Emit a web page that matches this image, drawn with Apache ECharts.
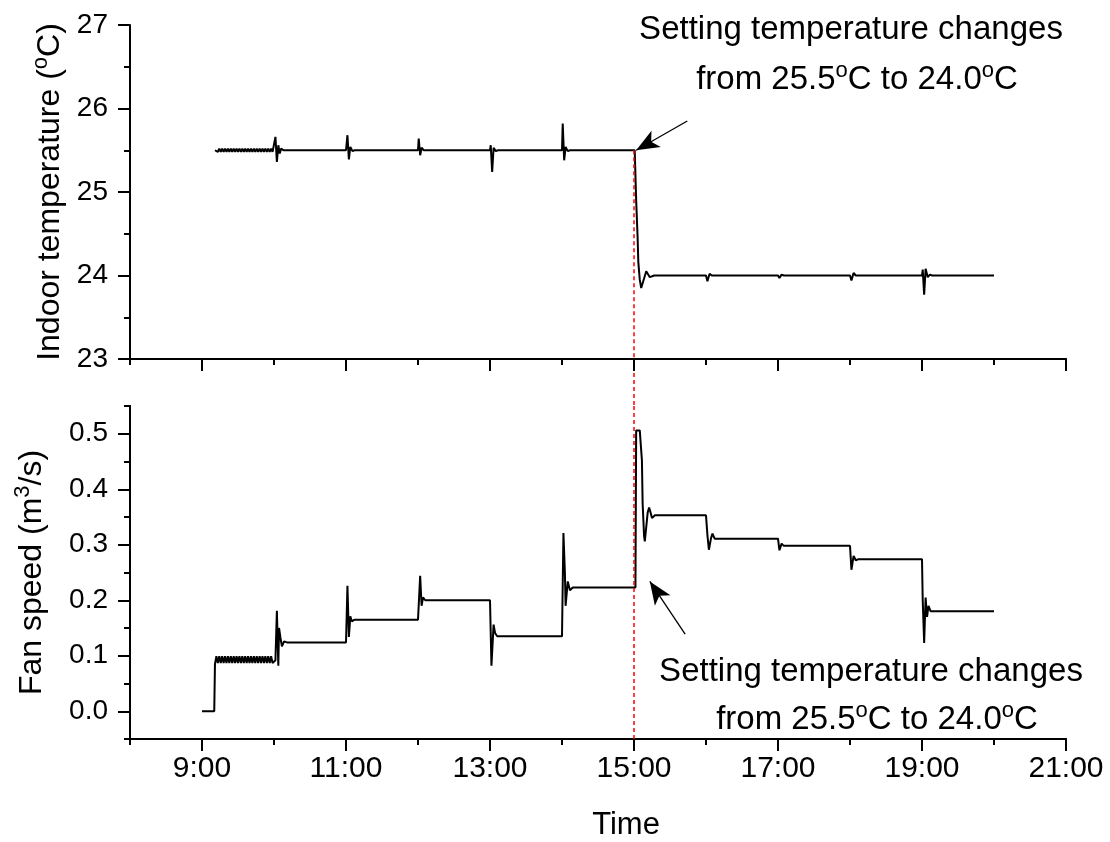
<!DOCTYPE html>
<html>
<head>
<meta charset="utf-8">
<script src="https://cdn.jsdelivr.net/npm/echarts@6/dist/echarts.min.js"></script>
<style>
  html, body { margin: 0; padding: 0; background: #fff; }
  #chart { width: 1110px; height: 842px; }
</style>
</head>
<body>
<div id="chart"></div>
<script>
// time in hours (decimal)
var hourLabels = ['8:00', '9:00', '10:00', '11:00', '12:00', '13:00', '14:00', '15:00', '16:00', '17:00', '18:00', '19:00', '20:00', '21:00']
var fanTickLabels = ['', '0.0', '', '0.1', '', '0.2', '', '0.3', '', '0.4', '', '0.5', '']
var changeTime = 15

// indoor temperature, [hour, degC]
var indoorTemp = [
  [9.18, 25.50], [9.20, 25.52], [9.22, 25.48], [9.24, 25.52], [9.26, 25.48], [9.28, 25.52], [9.30, 25.48],
  [9.32, 25.52], [9.34, 25.48], [9.36, 25.52], [9.38, 25.48], [9.40, 25.52], [9.42, 25.48], [9.44, 25.52],
  [9.46, 25.48], [9.48, 25.52], [9.50, 25.48], [9.52, 25.52], [9.54, 25.48], [9.56, 25.52], [9.58, 25.48],
  [9.60, 25.52], [9.62, 25.48], [9.64, 25.52], [9.66, 25.48], [9.68, 25.52], [9.70, 25.48], [9.72, 25.52],
  [9.74, 25.48], [9.76, 25.52], [9.78, 25.48], [9.80, 25.52], [9.82, 25.48], [9.84, 25.52], [9.86, 25.48],
  [9.88, 25.52], [9.90, 25.48], [9.92, 25.52], [9.94, 25.48], [9.96, 25.52], [9.98, 25.48], [10.00, 25.50],
  [10.02, 25.66], [10.04, 25.36], [10.06, 25.56], [10.08, 25.46], [10.10, 25.52], [10.13, 25.50],
  [11.00, 25.50], [11.02, 25.68], [11.04, 25.39], [11.06, 25.54], [11.09, 25.49], [11.12, 25.50],
  [12.00, 25.50], [12.01, 25.64], [12.03, 25.44], [12.05, 25.53], [12.08, 25.50],
  [13.00, 25.50], [13.01, 25.56], [13.03, 25.24], [13.05, 25.53], [13.08, 25.49], [13.11, 25.50],
  [14.00, 25.50], [14.01, 25.82], [14.03, 25.38], [14.05, 25.54], [14.08, 25.49], [14.11, 25.50],
  [15.01, 25.50], [15.03, 24.90], [15.05, 24.46], [15.06, 24.16], [15.08, 23.95], [15.10, 23.85],
  [15.17, 24.05], [15.22, 23.98], [15.28, 24.00],
  [16.00, 24.00], [16.02, 23.93], [16.05, 24.02], [16.08, 24.00],
  [17.00, 24.00], [17.02, 23.97], [17.05, 24.01], [17.08, 24.00],
  [18.00, 24.00], [18.02, 23.94], [18.05, 24.03], [18.08, 24.00],
  [19.00, 24.00], [19.01, 24.07], [19.03, 23.77], [19.05, 24.08], [19.08, 23.98], [19.11, 24.01], [19.14, 24.00],
  [20.00, 24.00]
]

// fan speed, [hour, m3/s]
var fanSpeed = [
  [9.00, 0], [9.17, 0], [9.18, 0.085],
  [9.20, 0.099], [9.22, 0.087], [9.24, 0.099], [9.26, 0.087], [9.28, 0.099], [9.30, 0.087], [9.32, 0.099],
  [9.34, 0.087], [9.36, 0.099], [9.38, 0.087], [9.40, 0.099], [9.42, 0.087], [9.44, 0.099], [9.46, 0.087],
  [9.48, 0.099], [9.50, 0.087], [9.52, 0.099], [9.54, 0.087], [9.56, 0.099], [9.58, 0.087], [9.60, 0.099],
  [9.62, 0.087], [9.64, 0.099], [9.66, 0.087], [9.68, 0.099], [9.70, 0.087], [9.72, 0.099], [9.74, 0.087],
  [9.76, 0.099], [9.78, 0.087], [9.80, 0.099], [9.82, 0.087], [9.84, 0.099], [9.86, 0.087], [9.88, 0.099],
  [9.90, 0.087], [9.92, 0.099], [9.94, 0.087], [9.96, 0.099], [9.98, 0.087], [10.02, 0.092],
  [10.04, 0.181], [10.06, 0.082], [10.07, 0.150], [10.09, 0.132], [10.11, 0.117], [10.14, 0.126], [10.18, 0.124],
  [11.00, 0.124], [11.02, 0.226], [11.04, 0.134], [11.06, 0.171], [11.08, 0.162], [11.12, 0.165],
  [12.00, 0.165], [12.03, 0.244], [12.05, 0.190], [12.07, 0.205], [12.10, 0.200],
  [13.00, 0.200], [13.02, 0.082], [13.05, 0.156], [13.07, 0.141], [13.10, 0.135],
  [14.00, 0.135], [14.02, 0.321], [14.04, 0.250], [14.05, 0.190], [14.08, 0.234], [14.11, 0.218], [14.15, 0.223],
  [15.02, 0.223], [15.03, 0.506], [15.08, 0.506], [15.11, 0.452], [15.12, 0.374], [15.14, 0.316], [15.15, 0.306],
  [15.17, 0.332], [15.19, 0.358], [15.21, 0.367], [15.23, 0.358], [15.25, 0.348], [15.29, 0.353],
  [16.00, 0.353], [16.02, 0.317], [16.04, 0.291], [16.07, 0.312], [16.09, 0.320], [16.12, 0.311],
  [17.00, 0.311], [17.02, 0.290], [17.05, 0.302], [17.08, 0.298],
  [18.00, 0.298], [18.02, 0.255], [18.05, 0.280], [18.08, 0.272], [18.12, 0.274],
  [19.00, 0.274], [19.01, 0.200], [19.03, 0.123], [19.05, 0.205], [19.07, 0.170], [19.09, 0.190], [19.12, 0.180],
  [20.00, 0.180]
]

var FONT = '"Liberation Sans", Arial, sans-serif'
// small raised glyph for the degree sign and the cube (bottom padding lifts it)
var sup = { fontSize: 22, fontFamily: FONT, color: '#000', padding: [0, 0, 18, 0] }
var line = { show: true, onZero: false, lineStyle: { color: '#000', width: 2 } }
var redDash = { color: '#ff0000', type: [4, 3], width: 1.5 }

function oddHour (i) { return i % 2 === 1 }
function hasLabel (i, v) { return v !== '' }

var chart = echarts.init(document.getElementById('chart'))
chart.setOption({
  animation: false,
  backgroundColor: '#fff',
  grid: [
    { left: 130, top: 25, width: 936, height: 334 },
    { left: 130, top: 406, width: 936, height: 336 }
  ],
  xAxis: [
    {
      type: 'value', gridIndex: 0, position: 'bottom', min: 8, max: 21, interval: 1,
      axisLine: line, axisTick: { length: 6, lineStyle: { color: '#000', width: 2 } },
      axisLabel: { show: false }, splitLine: { show: false }
    },
    {
      type: 'category', gridIndex: 0, position: 'bottom', data: hourLabels, boundaryGap: false,
      axisLine: line, axisTick: { interval: oddHour, length: 12, lineStyle: { color: '#000', width: 2 } },
      axisLabel: { show: false }, splitLine: { show: false }
    },
    {
      type: 'value', gridIndex: 1, position: 'bottom', min: 8, max: 21, interval: 1,
      axisLine: line, axisTick: { length: 6, lineStyle: { color: '#000', width: 2 } },
      axisLabel: { show: false }, splitLine: { show: false }
    },
    {
      type: 'category', gridIndex: 1, position: 'bottom', data: hourLabels, boundaryGap: false,
      axisLine: line, axisTick: { interval: oddHour, length: 12, lineStyle: { color: '#000', width: 2 } },
      axisLabel: { interval: oddHour, fontSize: 30, fontFamily: FONT, color: '#000', margin: 15 },
      splitLine: { show: false },
      name: 'Time', nameLocation: 'middle', nameGap: 71,
      nameTextStyle: { fontSize: 31, fontFamily: FONT, color: '#000', padding: [0, 0, 0, 56] }
    }
  ],
  yAxis: [
    {
      type: 'value', gridIndex: 0, position: 'left', min: 23, max: 27, interval: 1,
      axisLine: line, axisTick: { length: 12, lineStyle: { color: '#000', width: 2 } },
      minorTick: { show: true, splitNumber: 2, length: 6, lineStyle: { color: '#000', width: 2 } },
      axisLabel: { fontSize: 28, fontFamily: FONT, color: '#000', margin: 22 },
      splitLine: { show: false },
      name: 'Indoor temperature ({sup|o}C)', nameLocation: 'middle', nameGap: 60, nameRotate: 90,
      nameTextStyle: { fontSize: 32, fontFamily: FONT, color: '#000', rich: { sup: sup } }
    },
    {
      type: 'value', gridIndex: 1, position: 'left', min: -0.05, max: 0.55, interval: 0.05,
      axisLine: line, axisTick: { length: 6, lineStyle: { color: '#000', width: 2 } },
      axisLabel: { show: false }, splitLine: { show: false }
    },
    {
      type: 'category', gridIndex: 1, position: 'left', data: fanTickLabels, boundaryGap: false,
      axisLine: line, axisTick: { interval: hasLabel, length: 12, lineStyle: { color: '#000', width: 2 } },
      axisLabel: { interval: hasLabel, fontSize: 28, fontFamily: FONT, color: '#000', margin: 22 },
      splitLine: { show: false },
      name: 'Fan speed (m{sup|3}/s)', nameLocation: 'middle', nameGap: 78, nameRotate: 90,
      nameTextStyle: { fontSize: 32, fontFamily: FONT, color: '#000', rich: { sup: sup } }
    }
  ],
  series: [
    {
      name: 'Indoor temperature', type: 'line', xAxisIndex: 0, yAxisIndex: 0,
      data: indoorTemp, showSymbol: false, lineStyle: { color: '#000', width: 2 },
      markLine: {
        silent: true, symbol: ['none', 'none'], label: { show: false }, lineStyle: redDash,
        data: [
          [{ coord: [changeTime, 25.5] }, { coord: [changeTime, 23] }],
          [
            { coord: [15.74, 25.85], lineStyle: { color: '#000', type: 'solid', width: 1.3 } },
            { coord: [15.03, 25.5], symbol: 'arrow', symbolSize: [14, 23] }
          ]
        ]
      }
    },
    {
      name: 'Fan speed', type: 'line', xAxisIndex: 2, yAxisIndex: 1,
      data: fanSpeed, showSymbol: false, lineStyle: { color: '#000', width: 2 },
      markLine: {
        silent: true, symbol: ['none', 'none'], label: { show: false }, lineStyle: redDash,
        data: [
          [{ coord: [changeTime, -0.05] }, { coord: [changeTime, 0.55] }],
          [
            { coord: [15.71, 0.139], lineStyle: { color: '#000', type: 'solid', width: 1.3 } },
            { coord: [15.22, 0.234], symbol: 'arrow', symbolSize: [14, 23] }
          ]
        ]
      }
    }
  ],
  graphic: [
    { type: 'text', x: 851, y: 30, style: { text: 'Setting temperature changes', fontSize: 33, fontFamily: FONT, fill: '#000', align: 'center', verticalAlign: 'middle' } },
    { type: 'text', x: 857, y: 80, style: { text: 'from 25.5{sup|o}C to 24.0{sup|o}C', fontSize: 33, fontFamily: FONT, fill: '#000', align: 'center', verticalAlign: 'middle', rich: { sup: sup } } },
    { type: 'text', x: 871, y: 672, style: { text: 'Setting temperature changes', fontSize: 33, fontFamily: FONT, fill: '#000', align: 'center', verticalAlign: 'middle' } },
    { type: 'text', x: 877, y: 720, style: { text: 'from 25.5{sup|o}C to 24.0{sup|o}C', fontSize: 33, fontFamily: FONT, fill: '#000', align: 'center', verticalAlign: 'middle', rich: { sup: sup } } }
  ]
})

// bridge the dashed marker across the gap between the two panels
var gx = chart.convertToPixel({ xAxisIndex: 0 }, changeTime)
var gTop = chart.convertToPixel({ yAxisIndex: 0 }, 23)
var gBottom = chart.convertToPixel({ yAxisIndex: 1 }, 0.55)
chart.setOption({
  graphic: [{
    type: 'line', id: 'bridge', silent: true,
    shape: { x1: gx, y1: gTop, x2: gx, y2: gBottom },
    style: { stroke: redDash.color, lineWidth: redDash.width, lineDash: redDash.type }
  }]
})
</script>
</body>
</html>
